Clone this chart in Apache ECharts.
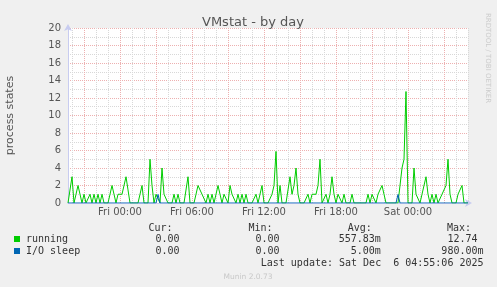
<!DOCTYPE html>
<html>
<head>
<meta charset="utf-8">
<script src="https://cdn.jsdelivr.net/npm/echarts@6/dist/echarts.min.js"></script>
<style>
html,body{margin:0;padding:0;background:#F0F0F0;}
#chart{width:497px;height:287px;}
</style>
</head>
<body>
<div id="chart"></div>
<script>
// running processes, one value every 10 minutes from Thu 19:40 to Sat 05:00
const running = [
  0,0,3,0,1,2,1,0,1,0, 0,1,0,1,0,1,0,1,0,0,
  0,1,2,1,0,1,1,1,1,3, 1.5,0,0,0,0,0,1,2,0,0,
  0,5,2,0,1,1,0,4,1,1, 0,0,0,1,0,1,0,0,0,0,
  3,0,0,0,1,2,2,1,1,0, 1,0,1,0,0,2,1,0,1,1,
  0,2,1,1,0,1,0,1,0,1, 0,0,0,0,1,0,0,2,0,0,
  0,0,1,2,5.9,0,2,0,0,0, 0,3,1,2,4,1,0,0,0,0,
  1,0,1,1,1,2,5,0,0,1, 0,1,3,1,0,1,1,0,1,0,
  0,0,1,0,0,0,0,0,0,0, 1,0,1,1,0,1,1,2,1,0,
  0,0,0,0,0,0,0,4,5,12.74, 0,0,0,4,1,1,0,1,1,3,
  1,0,1,0,1,0,0,1,1,2, 5,1,0,0,0,1,1,2,0,0,
  0
];
const ioSleep = [
  0,0,0,0,0,0,0,0,0,0, 0,0,0,0,0,0,0,0,0,0,
  0,0,0,0,0,0,0,0,0,0, 0,0,0,0,0,0,0,0,0,0,
  0,0,0,0,0,0.98,0,0,0,0, 0,0,0,0,0,0,0,0,0,0,
  0,0,0,0,0,0,0,0,0,0, 0,0,0,0,0,0,0,0,0,0,
  0,0,0,0,0,0,0,0,0,0, 0,0,0,0,0,0,0,0,0,0,
  0,0,0,0,0,0,0,0,0,0, 0,0,0,0,0,0,0,0,0,0,
  0,0,0,0,0,0,0,0,0,0, 0,0,0,0,0,0,0,0,0,0,
  0,0,0,0,0,0,0,0,0,0, 0,0,0,0,0,0,0,0,0,0,
  0,0,0,0,0,0.98,0,0,0,0, 0,0,0,0,0,0,0,0,0,0,
  0,0,0,0,0,0,0,0,0,0, 0,0,0,0,0,0,0,0,0,0,
  0
];
const xTickLabels = ['Fri 00:00', 'Fri 06:00', 'Fri 12:00', 'Fri 18:00', 'Sat 00:00'];
const yTicks = [0, 2, 4, 6, 8, 10, 12, 14, 16, 18, 20];

const legendRows = [
  { name: 'running',   color: '#00CC00', cur: '0.00', min: '0.00', avg: '557.83m', max: '12.74' },
  { name: 'I/O sleep', color: '#0066B3', cur: '0.00', min: '0.00', avg: '5.00m',   max: '980.00m' }
];

// category labels (10-minute steps)
const startTime = new Date(2025, 11, 4, 19, 40);
const dayNames = ['Sun','Mon','Tue','Wed','Thu','Fri','Sat'];
const pad = n => (n < 10 ? '0' : '') + n;
const categories = running.map((_, i) => {
  const d = new Date(startTime.getTime() + i * 10 * 60000);
  return dayNames[d.getDay()] + ' ' + pad(d.getHours()) + ':' + pad(d.getMinutes());
});
const hourOf = v => parseInt(v.slice(4, 6), 10);
const isHour = v => v.endsWith(':00');

const MONO = 'DejaVu Sans Mono';
const SANS = 'DejaVu Sans';
const TXT = '#333333';

const graphics = [];
function t(x, y, text, opts) {
  graphics.push({
    type: 'text', x: x, y: y, silent: true,
    style: Object.assign({ text: text, fill: TXT, font: '10px "' + MONO + '"', textAlign: 'left', textVerticalAlign: 'middle' }, opts || {})
  });
}
t(148.5, 228.3, 'Cur:');
t(248.5, 228.3, 'Min:');
t(347.8, 228.3, 'Avg:');
t(447, 228.3, 'Max:');
const rowY = [239, 251];
const valX = { cur: 155.5, min: 255.5 };
legendRows.forEach((r, k) => {
  const y = rowY[k];
  graphics.push({ type: 'rect', silent: true, shape: { x: 14, y: y - 3, width: 6, height: 6 }, style: { fill: r.color } });
  t(26, y, r.name);
  t(valX.cur, y, r.cur);
  t(valX.min, y, r.min);
  t(380.8, y, r.avg, { textAlign: 'right' });
  t(k === 0 ? 477.5 : 483.5, y, r.max, { textAlign: 'right' });
});
t(483.5, 263, 'Last update: Sat Dec  6 04:55:06 2025', { textAlign: 'right' });
t(248, 276.8, 'Munin 2.0.73', { fill: '#C8C8C8', font: '7.5px "' + SANS + '"', textAlign: 'center' });
graphics.push({
  type: 'text', x: 488, y: 58, rotation: -Math.PI / 2, silent: true,
  style: { text: 'RRDTOOL / TOBI OETIKER', fill: '#CCCCCC', font: '7px "' + SANS + '"', textAlign: 'center', textVerticalAlign: 'middle' }
});

const RED = '#EDB0B0';
const GRAY = '#D8D8D8';
const AXIS = '#C8CCF0';

const chart = echarts.init(document.getElementById('chart'), null, { renderer: 'canvas' });
chart.setOption({
  animation: false,
  backgroundColor: '#F0F0F0',
  title: {
    text: 'VMstat - by day', left: 248, top: 11, textAlign: 'center',
    textStyle: { fontFamily: SANS, fontSize: 13, fontWeight: 'normal', color: '#555555' }
  },
  grid: { left: 68, right: 29, top: 28, bottom: 84, show: true, backgroundColor: '#FFFFFF', borderWidth: 0, containLabel: false, outerBoundsMode: 'none' },
  xAxis: [
    {
      type: 'category', data: categories, boundaryGap: false, position: 'bottom',
      axisLine: { show: true, lineStyle: { color: AXIS, width: 1 }, symbol: ['none', 'arrow'], symbolSize: [6, 7], symbolOffset: [0, 4] },
      axisTick: { show: false },
      axisLabel: {
        interval: (i, v) => xTickLabels.indexOf(v) >= 0,
        color: '#555555', fontFamily: SANS, fontSize: 10, margin: 4
      },
      splitLine: {
        show: true,
        interval: (i, v) => isHour(v) && hourOf(v) % 3 !== 0,
        lineStyle: { color: GRAY, width: 1, type: [1, 1] }
      }
    },
    {
      type: 'category', data: categories, boundaryGap: false, position: 'bottom',
      axisLine: { show: false }, axisTick: { show: false }, axisLabel: { show: false },
      splitLine: {
        show: true,
        interval: (i, v) => isHour(v) && hourOf(v) % 3 === 0,
        lineStyle: { color: RED, width: 1, type: [1, 1] }
      }
    }
  ],
  yAxis: {
    type: 'value', min: yTicks[0], max: yTicks[yTicks.length - 1], interval: 2,
    name: 'process states', nameLocation: 'middle', nameRotate: 90, nameGap: 52,
    nameTextStyle: { fontFamily: SANS, fontSize: 11, color: '#555555' },
    axisLine: { show: true, lineStyle: { color: AXIS, width: 1 }, symbol: ['none', 'arrow'], symbolSize: [6, 7], symbolOffset: [0, 4] },
    axisTick: { show: false },
    axisLabel: { color: '#555555', fontFamily: SANS, fontSize: 10, margin: 7 },
    splitLine: { show: true, lineStyle: { color: RED, width: 1, type: [1, 1] } },
    minorTick: { show: false, splitNumber: 2 },
    minorSplitLine: { show: true, lineStyle: { color: GRAY, width: 1, type: [1, 1] } }
  },
  series: [
    { name: 'running', type: 'line', data: running, xAxisIndex: 0, showSymbol: false, symbol: 'none',
      lineStyle: { color: '#00CC00', width: 1 }, itemStyle: { color: '#00CC00' }, z: 3 },
    { name: 'I/O sleep', type: 'line', data: ioSleep, xAxisIndex: 0, showSymbol: false, symbol: 'none',
      lineStyle: { color: '#0066B3', width: 1 }, itemStyle: { color: '#0066B3' }, z: 4 }
  ],
  graphic: graphics
});
</script>
</body>
</html>
